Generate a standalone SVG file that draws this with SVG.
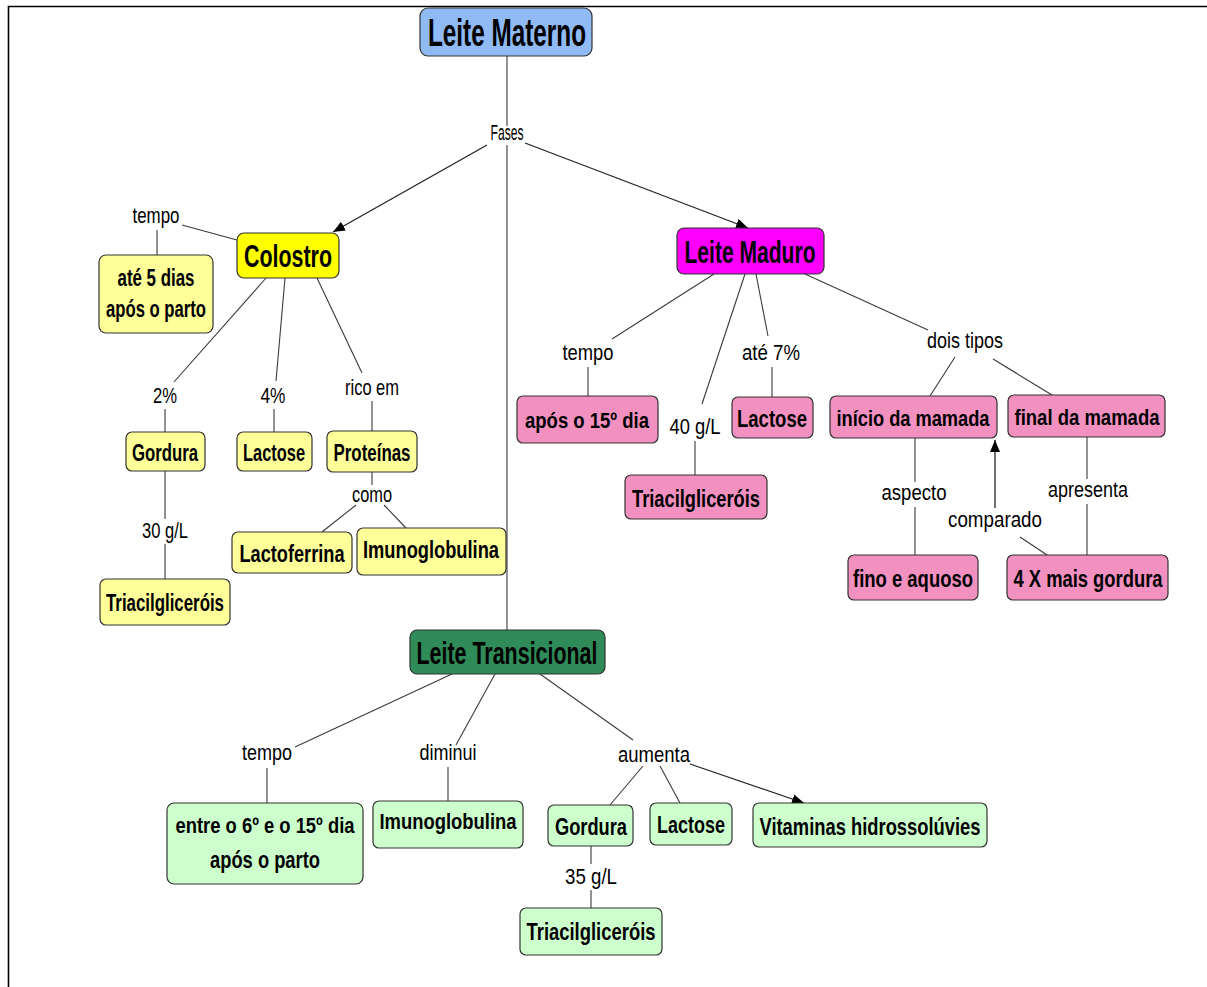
<svg xmlns="http://www.w3.org/2000/svg" width="1207" height="987" viewBox="0 0 1207 987">
  <style>
    .box { stroke: #333; stroke-width: 1.2; }
    .root { fill: #8fbaf3; }
    .colo { fill: #ffff00; }
    .ly { fill: #ffff99; }
    .mad { fill: #ff00ff; }
    .pk { fill: #f291bf; }
    .tra { fill: #2f8c58; }
    .lg { fill: #ccffcc; }
    text { font-family: "Liberation Sans Narrow", "Liberation Sans", Arial, sans-serif; fill: #000; text-anchor: middle; }
    .n { font-weight: bold; font-size: 24px; }
    .sm { font-size: 22px; }
    .big { font-weight: bold; font-size: 31px; }
    .lbl { font-size: 22px; }
    .ln { stroke: #3a3a3a; stroke-width: 1.1; fill: none; }
    .arr { stroke: #222; stroke-width: 1.3; fill: none; marker-end: url(#head); }
  </style>
  <defs>
    <marker id="head" markerUnits="userSpaceOnUse" markerWidth="12" markerHeight="10" refX="12" refY="5" orient="auto">
      <path d="M0,0 L12,5 L0,10 z" fill="#000"/>
    </marker>
  </defs>

  <rect x="0" y="0" width="1207" height="987" fill="#fff"/>
  <!-- page frame -->
  <path d="M8.5,987 V6.5 H1207" stroke="#000" stroke-width="1.6" fill="none"/>

  <g id="connectors">
    <line class="ln" x1="507" y1="56" x2="507" y2="126"/>
    <line class="ln" x1="507" y1="145" x2="507" y2="630"/>
    <line class="arr" x1="487" y1="145" x2="333" y2="232"/>
    <line class="arr" x1="525" y1="143" x2="748" y2="228"/>
    <!-- Colostro -->
    <line class="ln" x1="182" y1="225" x2="237" y2="240"/>
    <line class="ln" x1="157" y1="230" x2="157" y2="255"/>
    <line class="ln" x1="266" y1="278" x2="174" y2="382"/>
    <line class="ln" x1="165" y1="409" x2="165" y2="432"/>
    <line class="ln" x1="285" y1="278" x2="276" y2="381"/>
    <line class="ln" x1="274" y1="409" x2="274" y2="432"/>
    <line class="ln" x1="317" y1="278" x2="362" y2="373"/>
    <line class="ln" x1="372" y1="401" x2="372" y2="431"/>
    <line class="ln" x1="372" y1="472" x2="372" y2="485"/>
    <line class="ln" x1="356" y1="505" x2="322" y2="532"/>
    <line class="ln" x1="384" y1="505" x2="406" y2="528"/>
    <line class="ln" x1="165" y1="471" x2="165" y2="519"/>
    <line class="ln" x1="165" y1="544" x2="165" y2="579"/>
    <!-- Leite Maduro -->
    <line class="ln" x1="714" y1="274" x2="612" y2="339"/>
    <line class="ln" x1="588" y1="367" x2="588" y2="396"/>
    <line class="ln" x1="745" y1="274" x2="702" y2="404"/>
    <line class="ln" x1="695" y1="441" x2="695" y2="475"/>
    <line class="ln" x1="756" y1="274" x2="768" y2="336"/>
    <line class="ln" x1="772" y1="367" x2="772" y2="397"/>
    <line class="ln" x1="805" y1="274" x2="928" y2="330"/>
    <line class="ln" x1="955" y1="357" x2="930" y2="396"/>
    <line class="ln" x1="993" y1="359" x2="1052" y2="395"/>
    <line class="ln" x1="915" y1="438" x2="915" y2="482"/>
    <line class="ln" x1="915" y1="507" x2="915" y2="555"/>
    <line class="ln" x1="1087" y1="437" x2="1087" y2="479"/>
    <line class="ln" x1="1087" y1="504" x2="1087" y2="555"/>
    <line class="ln" x1="1047" y1="555" x2="1020" y2="537"/>
    <line class="arr" x1="995" y1="508" x2="995" y2="440"/>
    <!-- Leite Transicional -->
    <line class="ln" x1="452" y1="674" x2="295" y2="747"/>
    <line class="ln" x1="267" y1="768" x2="267" y2="803"/>
    <line class="ln" x1="495" y1="674" x2="456" y2="745"/>
    <line class="ln" x1="448" y1="767" x2="448" y2="801"/>
    <line class="ln" x1="540" y1="674" x2="633" y2="740"/>
    <line class="ln" x1="643" y1="766" x2="610" y2="805"/>
    <line class="ln" x1="660" y1="766" x2="680" y2="803"/>
    <line class="arr" x1="690" y1="764" x2="804" y2="803"/>
    <line class="ln" x1="591" y1="846" x2="591" y2="864"/>
    <line class="ln" x1="591" y1="890" x2="591" y2="908"/>
  </g>

  <g id="labels">
    <text class="lbl" x="507" y="140" font-size="15" textLength="33" lengthAdjust="spacingAndGlyphs">Fases</text>
    <text class="lbl" x="156" y="223" textLength="47" lengthAdjust="spacingAndGlyphs">tempo</text>
    <text class="lbl" x="165" y="403" textLength="24" lengthAdjust="spacingAndGlyphs">2%</text>
    <text class="lbl" x="273" y="403" textLength="25" lengthAdjust="spacingAndGlyphs">4%</text>
    <text class="lbl" x="372" y="395" textLength="54" lengthAdjust="spacingAndGlyphs">rico em</text>
    <text class="lbl" x="372" y="502" textLength="40" lengthAdjust="spacingAndGlyphs">como</text>
    <text class="lbl" x="165" y="538" textLength="46" lengthAdjust="spacingAndGlyphs">30 g/L</text>
    <text class="lbl" x="588" y="360" textLength="51" lengthAdjust="spacingAndGlyphs">tempo</text>
    <text class="lbl" x="695" y="434" font-size="20" textLength="51" lengthAdjust="spacingAndGlyphs">40 g/L</text>
    <text class="lbl" x="771" y="360" textLength="58" lengthAdjust="spacingAndGlyphs">até 7%</text>
    <text class="lbl" x="965" y="348" textLength="76" lengthAdjust="spacingAndGlyphs">dois tipos</text>
    <text class="lbl" x="914" y="500" textLength="65" lengthAdjust="spacingAndGlyphs">aspecto</text>
    <text class="lbl" x="1088" y="497" textLength="80" lengthAdjust="spacingAndGlyphs">apresenta</text>
    <text class="lbl" x="995" y="527" textLength="94" lengthAdjust="spacingAndGlyphs">comparado</text>
    <text class="lbl" x="267" y="760" textLength="50" lengthAdjust="spacingAndGlyphs">tempo</text>
    <text class="lbl" x="448" y="760" textLength="57" lengthAdjust="spacingAndGlyphs">diminui</text>
    <text class="lbl" x="654" y="762" textLength="72" lengthAdjust="spacingAndGlyphs">aumenta</text>
    <text class="lbl" x="591" y="884" textLength="52" lengthAdjust="spacingAndGlyphs">35 g/L</text>
  </g>

  <g id="leite-materno">
    <rect class="box root" x="420" y="8" width="172" height="48" rx="8"/>
    <text x="507" y="46" font-weight="bold" font-size="39" textLength="158" lengthAdjust="spacingAndGlyphs">Leite Materno</text>
  </g>

  <g id="colostro">
    <rect class="box colo" x="237" y="233" width="102" height="45" rx="7"/>
    <text class="big" x="288" y="267" textLength="88" lengthAdjust="spacingAndGlyphs">Colostro</text>
  </g>
  <g id="colostro-tempo">
    <rect class="box ly" x="99" y="255" width="114" height="78" rx="7"/>
    <text class="n" x="156" y="286" textLength="77" lengthAdjust="spacingAndGlyphs">até 5 dias</text>
    <text class="n" x="156" y="317" textLength="100" lengthAdjust="spacingAndGlyphs">após o parto</text>
  </g>
  <g id="colostro-gordura">
    <rect class="box ly" x="126" y="432" width="79" height="39" rx="6"/>
    <text class="n" x="165" y="461" textLength="66" lengthAdjust="spacingAndGlyphs">Gordura</text>
  </g>
  <g id="colostro-lactose">
    <rect class="box ly" x="237" y="432" width="75" height="39" rx="6"/>
    <text class="n" x="274" y="461" textLength="62" lengthAdjust="spacingAndGlyphs">Lactose</text>
  </g>
  <g id="colostro-proteinas">
    <rect class="box ly" x="327" y="431" width="90" height="41" rx="6"/>
    <text class="n" x="372" y="461" textLength="77" lengthAdjust="spacingAndGlyphs">Proteínas</text>
  </g>
  <g id="colostro-lactoferrina">
    <rect class="box ly" x="232" y="532" width="120" height="41" rx="6"/>
    <text class="n" x="292" y="562" textLength="105" lengthAdjust="spacingAndGlyphs">Lactoferrina</text>
  </g>
  <g id="colostro-imunoglobulina">
    <rect class="box ly" x="357" y="528" width="149" height="47" rx="6"/>
    <text class="n" x="431" y="558" textLength="136" lengthAdjust="spacingAndGlyphs">Imunoglobulina</text>
  </g>
  <g id="colostro-triacilglicerois">
    <rect class="box ly" x="100" y="579" width="130" height="46" rx="6"/>
    <text class="n" x="165" y="611" textLength="118" lengthAdjust="spacingAndGlyphs">Triacilgliceróis</text>
  </g>

  <g id="leite-maduro">
    <rect class="box mad" x="677" y="228" width="147" height="46" rx="7"/>
    <text class="big" x="750" y="263" font-size="29" textLength="131" lengthAdjust="spacingAndGlyphs">Leite Maduro</text>
  </g>
  <g id="maduro-tempo">
    <rect class="box pk" x="517" y="396" width="141" height="47" rx="6"/>
    <text class="n sm" x="587" y="428" textLength="124" lengthAdjust="spacingAndGlyphs">após o 15º dia</text>
  </g>
  <g id="maduro-lactose">
    <rect class="box pk" x="732" y="397" width="81" height="41" rx="6"/>
    <text class="n" x="772" y="427" textLength="70" lengthAdjust="spacingAndGlyphs">Lactose</text>
  </g>
  <g id="maduro-triacilglicerois">
    <rect class="box pk" x="625" y="475" width="142" height="44" rx="6"/>
    <text class="n" x="696" y="507" textLength="128" lengthAdjust="spacingAndGlyphs">Triacilgliceróis</text>
  </g>
  <g id="inicio-mamada">
    <rect class="box pk" x="830" y="396" width="167" height="42" rx="6"/>
    <text class="n sm" x="913" y="426" textLength="153" lengthAdjust="spacingAndGlyphs">início da mamada</text>
  </g>
  <g id="final-mamada">
    <rect class="box pk" x="1008" y="395" width="157" height="42" rx="6"/>
    <text class="n sm" x="1087" y="425" textLength="145" lengthAdjust="spacingAndGlyphs">final da mamada</text>
  </g>
  <g id="fino-aquoso">
    <rect class="box pk" x="848" y="555" width="130" height="45" rx="6"/>
    <text class="n" x="913" y="587" textLength="120" lengthAdjust="spacingAndGlyphs">fino e aquoso</text>
  </g>
  <g id="mais-gordura">
    <rect class="box pk" x="1007" y="555" width="161" height="45" rx="6"/>
    <text class="n" x="1088" y="587" textLength="149" lengthAdjust="spacingAndGlyphs">4 X mais gordura</text>
  </g>

  <g id="leite-transicional">
    <rect class="box tra" x="410" y="630" width="195" height="44" rx="7"/>
    <text class="big" x="507" y="664" textLength="181" lengthAdjust="spacingAndGlyphs">Leite Transicional</text>
  </g>
  <g id="transicional-tempo">
    <rect class="box lg" x="167" y="803" width="196" height="81" rx="7"/>
    <text class="n sm" x="265" y="833" textLength="179" lengthAdjust="spacingAndGlyphs">entre o 6º e o 15º dia</text>
    <text class="n" x="265" y="868" textLength="110" lengthAdjust="spacingAndGlyphs">após o parto</text>
  </g>
  <g id="transicional-imunoglobulina">
    <rect class="box lg" x="373" y="801" width="150" height="47" rx="6"/>
    <text class="n sm" x="448" y="829" textLength="137" lengthAdjust="spacingAndGlyphs">Imunoglobulina</text>
  </g>
  <g id="transicional-gordura">
    <rect class="box lg" x="548" y="805" width="85" height="41" rx="6"/>
    <text class="n" x="591" y="835" textLength="72" lengthAdjust="spacingAndGlyphs">Gordura</text>
  </g>
  <g id="transicional-lactose">
    <rect class="box lg" x="650" y="803" width="82" height="42" rx="6"/>
    <text class="n" x="691" y="833" textLength="68" lengthAdjust="spacingAndGlyphs">Lactose</text>
  </g>
  <g id="transicional-vitaminas">
    <rect class="box lg" x="753" y="803" width="234" height="44" rx="6"/>
    <text class="n" x="870" y="835" textLength="221" lengthAdjust="spacingAndGlyphs">Vitaminas hidrossolúvies</text>
  </g>
  <g id="transicional-triacilglicerois">
    <rect class="box lg" x="520" y="908" width="142" height="47" rx="6"/>
    <text class="n" x="591" y="940" textLength="129" lengthAdjust="spacingAndGlyphs">Triacilgliceróis</text>
  </g>
</svg>
